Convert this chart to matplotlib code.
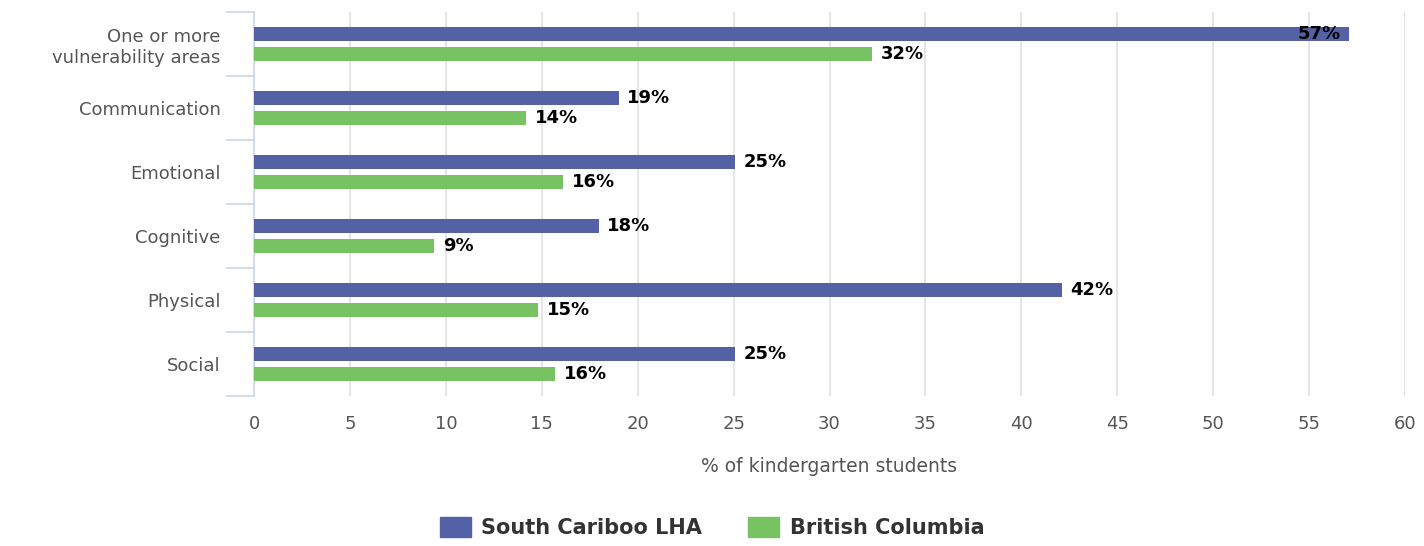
import numpy as np
import matplotlib
matplotlib.use("Agg")
import matplotlib.pyplot as plt
from matplotlib.patches import Patch

# data
categories = ["One or more\nvulnerability areas", "Communication", "Emotional",
              "Cognitive", "Physical", "Social"]
south_cariboo = [57.1, 19.0, 25.05, 17.97, 42.1, 25.05]
british_columbia = [32.2, 14.2, 16.1, 9.4, 14.8, 15.7]
series_names = ["South Cariboo LHA", "British Columbia"]
x_ticks = [0, 5, 10, 15, 20, 25, 30, 35, 40, 45, 50, 55, 60]

blue = "#5461a6"
green = "#77c263"
axis_col = "#ccd6eb"
grid_col = "#e0e0e0"

fig = plt.figure(figsize=(14.24, 5.46), dpi=100)
ax = fig.add_axes([0.1784, 0.2747, 0.8083, 0.7033])

y = np.arange(len(categories))
off = 0.155
h = 0.22

ax.barh(y - off, south_cariboo, height=h, color=blue, zorder=3)
ax.barh(y + off, british_columbia, height=h, color=green, zorder=3)

# value labels
for i in range(len(categories)):
    for vals, dy in ((south_cariboo, -off), (british_columbia, off)):
        v = vals[i]
        txt = "%d%%" % round(v)
        if v > 54:
            ax.text(v - 0.45, y[i] + dy, txt, ha="right", va="center",
                    fontsize=13, fontweight="bold", color="black", zorder=4)
        else:
            ax.text(v + 0.45, y[i] + dy, txt, ha="left", va="center",
                    fontsize=13, fontweight="bold", color="black", zorder=4)

ax.set_xlim(0, 60)
ax.set_ylim(len(categories) - 0.5, -0.5)
ax.set_xticks(x_ticks)
ax.set_xticklabels([str(t) for t in x_ticks], fontsize=13, color="#555555")
ax.tick_params(axis="x", length=0, pad=14)

ax.set_yticks(y)
ax.set_yticklabels(categories, fontsize=13, color="#555555", ha="right",
                   multialignment="right")
ax.tick_params(axis="y", length=0, pad=24)
# category boundary ticks
ax.set_yticks(np.arange(len(categories) + 1) - 0.5, minor=True)
ax.tick_params(axis="y", which="minor", length=20, color=axis_col, width=1.2)

ax.grid(axis="x", color=grid_col, linewidth=1.2, zorder=0)
for s in ["top", "right", "bottom"]:
    ax.spines[s].set_visible(False)
ax.spines["left"].set_color(axis_col)
ax.spines["left"].set_linewidth(1.2)

ax.set_xlabel("% of kindergarten students", fontsize=13.5, color="#555555",
              labelpad=17)

handles = [Patch(color=blue), Patch(color=green)]
fig.legend(handles, series_names, loc="lower center", ncol=2, frameon=False,
           bbox_to_anchor=(0.5, -0.02), handlelength=1.5, handleheight=1.15,
           columnspacing=2.2, handletextpad=0.5,
           prop={"size": 15, "weight": "bold"}, labelcolor="#333333")

fig.savefig("out.png", dpi=100)
